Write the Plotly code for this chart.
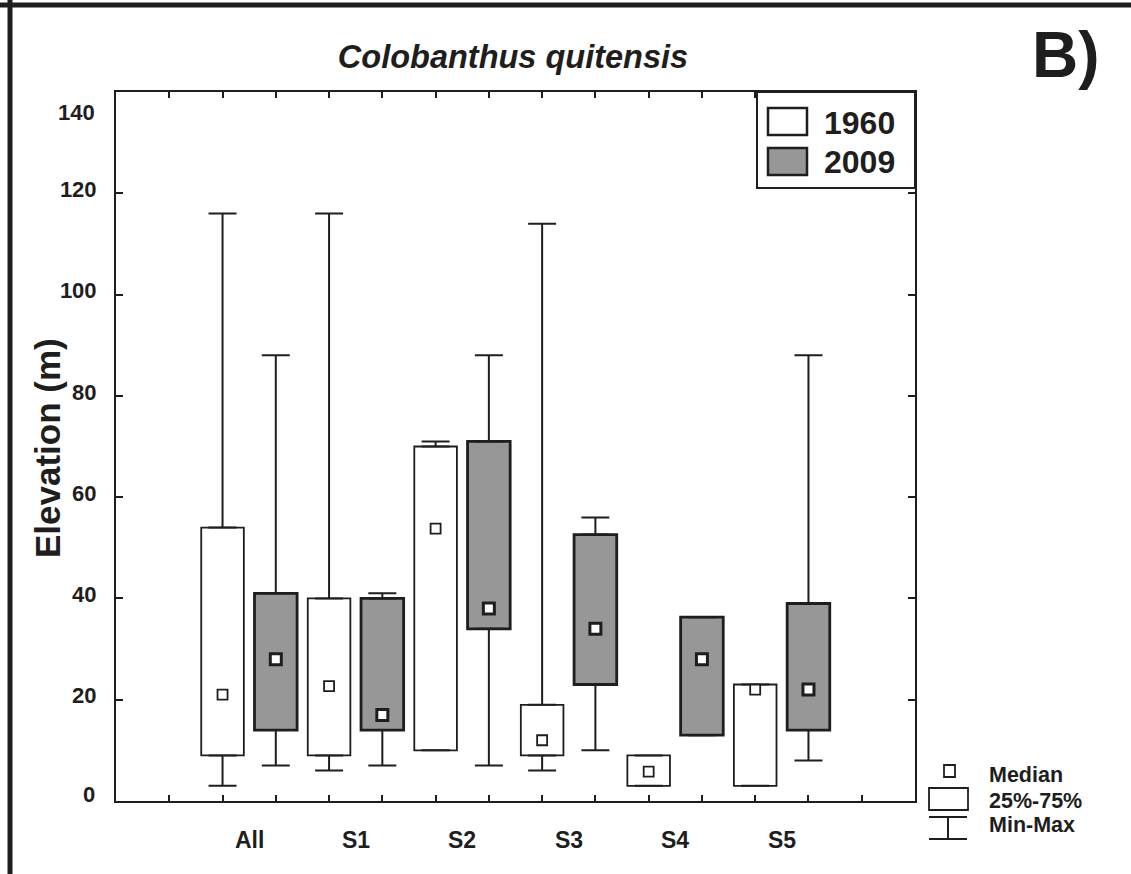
import plotly.graph_objects as go

# ---------------- data ----------------
categories = ["All", "S1", "S2", "S3", "S4", "S5"]

min_1960 = [3, 6, 10, 6, 3, 3]
q1_1960 = [9, 9, 10, 9, 3, 3]
med_1960 = [21, 22.7, 53.8, 12, 5.8, 22]
q3_1960 = [54, 40, 70, 19, 9, 23]
max_1960 = [116, 116, 71, 114, 9, 23]

min_2009 = [7, 7, 7, 10, 13, 8]
q1_2009 = [14, 14, 34, 23, 13, 14]
med_2009 = [28, 17, 38, 34, 28, 22]
q3_2009 = [41, 40, 71, 52.6, 36.3, 39]
max_2009 = [88, 41, 88, 56, 36.3, 88]

y_ticks = [0, 20, 40, 60, 80, 100, 120, 140]
y_tick_text = ["", "20", "40", "60", "80", "100", "120", ""]

# ---------------- layout geometry ----------------
W, H = 1131, 874
L, R, T, B = 116, 915, 92, 801
FONT = "Liberation Sans, Arial, sans-serif"
INK = "#1e1e1e"
GRAY = "#979797"


def px(x):
    return (x - L) / (R - L)


def py(y):
    return (B - y) / (B - T)


n = len(categories)
pos_1960 = [2 + 2 * i for i in range(n)]
pos_2009 = [3 + 2 * i for i in range(n)]
mid = [2.5 + 2 * i for i in range(n)]

fig = go.Figure()


def add_series(pos, mn, q1, med, q3, mx, fill, lw, msize, mlw):
    # box 25%-75%
    fig.add_trace(go.Bar(
        x=pos, base=q1, y=[b - a for a, b in zip(q1, q3)], width=0.8,
        marker=dict(color=fill, line=dict(color=INK, width=lw)),
        showlegend=False, hoverinfo="skip"))
    # upper whisker
    fig.add_trace(go.Scatter(
        x=pos, y=q3, mode="markers",
        marker=dict(size=1, color="rgba(0,0,0,0)"),
        error_y=dict(type="data", symmetric=False,
                     array=[b - a for a, b in zip(q3, mx)],
                     arrayminus=[0] * len(pos),
                     width=14, thickness=2, color=INK),
        showlegend=False, hoverinfo="skip"))
    # lower whisker
    fig.add_trace(go.Scatter(
        x=pos, y=q1, mode="markers",
        marker=dict(size=1, color="rgba(0,0,0,0)"),
        error_y=dict(type="data", symmetric=False,
                     array=[0] * len(pos),
                     arrayminus=[a - b for a, b in zip(q1, mn)],
                     width=14, thickness=2, color=INK),
        showlegend=False, hoverinfo="skip"))
    # median
    fig.add_trace(go.Scatter(
        x=pos, y=med, mode="markers",
        marker=dict(symbol="square", size=msize, color="white",
                    line=dict(color=INK, width=mlw)),
        showlegend=False, hoverinfo="skip"))


add_series(pos_1960, min_1960, q1_1960, med_1960, q3_1960, max_1960,
           "white", 1.8, 10, 1.8)
add_series(pos_2009, min_2009, q1_2009, med_2009, q3_2009, max_2009,
           GRAY, 2.8, 11, 3)

shapes = []
annotations = []

# figure frame (thick line top and left)
shapes.append(dict(type="line", xref="paper", yref="paper",
                   x0=px(0), x1=px(W), y0=py(5), y1=py(5),
                   line=dict(color=INK, width=5)))
shapes.append(dict(type="line", xref="paper", yref="paper",
                   x0=px(10), x1=px(10), y0=py(0), y1=py(H),
                   line=dict(color=INK, width=5)))

# legend box
shapes.append(dict(type="rect", xref="paper", yref="paper",
                   x0=px(757), x1=px(915), y0=py(188), y1=py(92),
                   fillcolor="white", line=dict(color=INK, width=2), layer="above"))
shapes.append(dict(type="rect", xref="paper", yref="paper",
                   x0=px(768), x1=px(807), y0=py(135), y1=py(108),
                   fillcolor="white", line=dict(color=INK, width=2.5), layer="above"))
shapes.append(dict(type="rect", xref="paper", yref="paper",
                   x0=px(768), x1=px(807), y0=py(175), y1=py(148),
                   fillcolor=GRAY, line=dict(color=INK, width=2.5), layer="above"))
for label, yc in (("1960", 123), ("2009", 162)):
    annotations.append(dict(text=label, xref="paper", yref="paper",
                            x=px(822), y=py(yc), xanchor="left", yanchor="middle",
                            showarrow=False,
                            font=dict(family=FONT, size=32, color=INK, weight="bold")))

# key (bottom right)
shapes.append(dict(type="rect", xref="paper", yref="paper",
                   x0=px(944), x1=px(955), y0=py(777), y1=py(765),
                   fillcolor="white", line=dict(color=INK, width=1.8)))
shapes.append(dict(type="rect", xref="paper", yref="paper",
                   x0=px(929), x1=px(968), y0=py(810), y1=py(788),
                   fillcolor="white", line=dict(color=INK, width=1.8)))
shapes.append(dict(type="line", xref="paper", yref="paper",
                   x0=px(929), x1=px(967), y0=py(817), y1=py(817),
                   line=dict(color=INK, width=2)))
shapes.append(dict(type="line", xref="paper", yref="paper",
                   x0=px(948), x1=px(948), y0=py(817), y1=py(839),
                   line=dict(color=INK, width=2)))
shapes.append(dict(type="line", xref="paper", yref="paper",
                   x0=px(929), x1=px(967), y0=py(839), y1=py(839),
                   line=dict(color=INK, width=2)))
for label, yc in (("Median", 775), ("25%-75%", 801), ("Min-Max", 825)):
    annotations.append(dict(text=label, xref="paper", yref="paper",
                            x=px(987), y=py(yc), xanchor="left", yanchor="middle",
                            showarrow=False,
                            font=dict(family=FONT, size=21.5, color=INK, weight="bold")))

# category labels
for c, m in zip(categories, mid):
    annotations.append(dict(text=c, xref="x", yref="paper", x=m, y=py(840),
                            xanchor="center", yanchor="middle", showarrow=False,
                            font=dict(family=FONT, size=23, color=INK, weight="bold")))

# end labels of the y axis (drawn pulled inside the axis span, as in the source)
annotations.append(dict(text="140", xref="paper", yref="paper",
                        x=px(97), y=py(113), xanchor="right", yanchor="middle",
                        showarrow=False,
                        font=dict(family=FONT, size=22, color=INK, weight="bold")))
annotations.append(dict(text="0", xref="paper", yref="paper",
                        x=px(97), y=py(794), xanchor="right", yanchor="middle",
                        showarrow=False,
                        font=dict(family=FONT, size=22, color=INK, weight="bold")))

# y axis title
annotations.append(dict(text="Elevation (m)", xref="paper", yref="paper",
                        x=px(47), y=py(448), xanchor="center", yanchor="middle",
                        textangle=-90, showarrow=False,
                        font=dict(family=FONT, size=35, color=INK, weight="bold")))

# panel letter
annotations.append(dict(text="B)", xref="paper", yref="paper",
                        x=px(1066), y=py(55), xanchor="center", yanchor="middle",
                        showarrow=False,
                        font=dict(family=FONT, size=64, color=INK, weight="bold")))

fig.update_layout(
    width=W, height=H,
    margin=dict(l=L, r=W - R, t=T, b=H - B, pad=0),
    paper_bgcolor="white", plot_bgcolor="white",
    showlegend=False, barmode="overlay",
    title=dict(text="<i>Colobanthus quitensis</i>", x=px(513), xref="paper",
               y=1 - 57 / H, yref="container", xanchor="center", yanchor="middle",
               font=dict(family=FONT, size=32.5, color=INK, weight="bold")),
    xaxis=dict(range=[0, 15], tickmode="array", tickvals=list(range(1, 15)),
               showticklabels=False, ticks="inside", ticklen=6, tickwidth=2,
               tickcolor=INK, showline=True, linewidth=2, linecolor=INK,
               mirror="ticks", showgrid=False, zeroline=False),
    yaxis=dict(range=[0, 140], tickmode="array", tickvals=y_ticks,
               ticktext=y_tick_text,
               ticks="inside", ticklen=7, tickwidth=2, tickcolor=INK,
               showline=True, linewidth=2, linecolor=INK, mirror="ticks",
               showgrid=False, zeroline=False, ticklabelstandoff=13,
               ticklabelshift=-4,
               tickfont=dict(family=FONT, size=22, color=INK, weight="bold")),
    shapes=shapes, annotations=annotations,
)

fig.write_html("out.html", config={"displayModeBar": False},
               post_script="document.body.style.margin='0';document.body.style.overflow='hidden';")
